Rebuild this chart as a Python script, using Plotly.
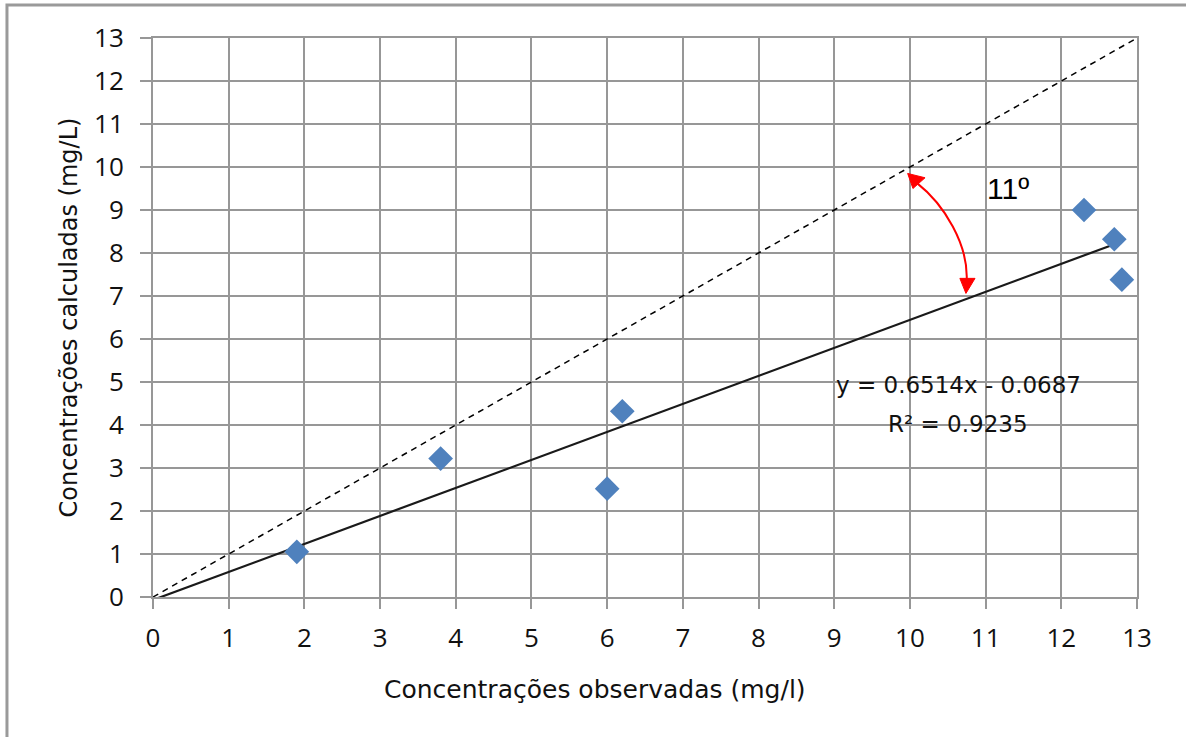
import plotly.graph_objects as go

# Observed vs. calculated concentrations (mg/L)
observadas = [1.9, 3.8, 6.0, 6.2, 12.3, 12.7, 12.8]
calculadas = [1.05, 3.22, 2.52, 4.32, 9.0, 8.32, 7.38]

# Linear trendline parameters (as reported on the chart)
slope = 0.6514
intercept = -0.0687
r2 = 0.9235

axis_ticks = list(range(0, 14))
angle_label = "11º"

GRID = "#979797"
TICK_FONT = "'Open Sans', sans-serif"
TEXT_FONT = "'DejaVu Sans', sans-serif"

fig = go.Figure()

# 1:1 reference line
fig.add_trace(go.Scatter(
    x=[0, 13], y=[0, 13], mode="lines",
    line=dict(color="black", width=1.5, dash="6px,5px"),
    hoverinfo="skip", showlegend=False,
))

# Trendline from origin to the largest observation
x_fit = [0, max(observadas)]
y_fit = [slope * v + intercept for v in x_fit]
fig.add_trace(go.Scatter(
    x=x_fit, y=y_fit, mode="lines",
    line=dict(color="#1a1a1a", width=2.2),
    hoverinfo="skip", showlegend=False,
))

# Data points
fig.add_trace(go.Scatter(
    x=observadas, y=calculadas, mode="markers",
    marker=dict(symbol="diamond", size=19, color="#4F81BD", line=dict(width=0)),
    showlegend=False,
))

axis_common = dict(
    range=[0, 13], tickmode="array", tickvals=axis_ticks,
    ticktext=[str(t) for t in axis_ticks],
    showgrid=True, gridcolor=GRID, gridwidth=2,
    showline=True, linecolor=GRID, linewidth=2, mirror=True,
    zeroline=False, ticks="outside", tickcolor=GRID, tickwidth=2,
    tickfont=dict(family=TICK_FONT, size=26, color="#111111"),
    fixedrange=True,
)

fig.update_xaxes(**axis_common, ticklen=10, ticklabelstandoff=7)
fig.update_yaxes(
    **axis_common, ticklen=11, ticklabelstandoff=11,
    title=dict(text="Concentrações calculadas (mg/L)",
               font=dict(family=TEXT_FONT, size=24, color="#111111"), standoff=10),
)

# X-axis title, placed slightly left of the plot centre
fig.add_annotation(x=0.449, y=-0.166, xref="paper", yref="paper",
                   text="Concentrações observadas (mg/l)", showarrow=False,
                   xanchor="center", yanchor="middle",
                   font=dict(family=TEXT_FONT, size=25, color="#111111"))

# Red curved double arrow marking the angle between the two lines
arc_path = "M 10.09,9.63 C 10.46,9.12 10.77,8.19 10.75,7.37"
fig.add_shape(type="path", path=arc_path, xref="x", yref="y",
              line=dict(color="#FF0000", width=2))
fig.add_shape(type="path", path="M 9.97,9.85 L 10.20,9.75 L 10.04,9.50 Z",
              xref="x", yref="y", fillcolor="#FF0000", line=dict(color="#FF0000", width=1))
fig.add_shape(type="path", path="M 10.74,7.06 L 10.66,7.41 L 10.86,7.41 Z",
              xref="x", yref="y", fillcolor="#FF0000", line=dict(color="#FF0000", width=1))

# Outer chart frame
fig.add_shape(type="rect", xref="paper", yref="paper",
              x0=-0.1484, y0=-0.4, x1=1.2, y1=1.059,
              line=dict(color="#9a9a9a", width=3), layer="below")

fig.add_annotation(x=11.3, y=9.5, xref="x", yref="y", text=angle_label,
                   showarrow=False, font=dict(family="Liberation Sans, Arial", size=30, color="black"))
fig.add_annotation(x=10.64, y=4.93, xref="x", yref="y",
                   text=f"y = {slope}x - {abs(intercept)}",
                   showarrow=False, font=dict(family=TEXT_FONT, size=23, color="#111111"))
fig.add_annotation(x=10.64, y=4.02, xref="x", yref="y",
                   text=f"R² = {r2}",
                   showarrow=False, font=dict(family=TEXT_FONT, size=23, color="#111111"))

fig.update_layout(
    width=1186, height=737,
    margin=dict(l=153, r=49, t=38, b=140),
    paper_bgcolor="white", plot_bgcolor="white",
    showlegend=False,
)

fig.write_html("out.html")
